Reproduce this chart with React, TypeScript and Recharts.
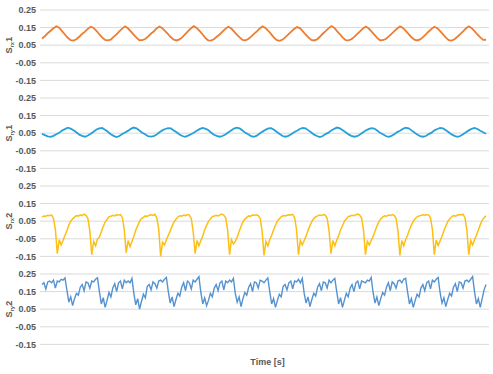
import React from "react";
import { LineChart, Line, XAxis, YAxis, CartesianGrid } from "recharts";

// shared y ticks for every panel
const yTicks = [-0.15, -0.05, 0.05, 0.15, 0.25];

// S_rx1 (orange)
const srx1 = [
  0.088, 0.101, 0.118, 0.132, 0.146,
  0.158, 0.149, 0.13, 0.111, 0.092, 0.079, 0.076, 0.084, 0.098, 0.114, 0.127, 0.143,
  0.155, 0.148, 0.132, 0.112, 0.094, 0.08, 0.078, 0.082, 0.097, 0.112, 0.129, 0.144,
  0.157, 0.146, 0.129, 0.11, 0.093, 0.078, 0.079, 0.085, 0.099, 0.115, 0.128, 0.145,
  0.156, 0.147, 0.13, 0.113, 0.095, 0.081, 0.077, 0.083, 0.096, 0.113, 0.13, 0.146,
  0.158, 0.148, 0.131, 0.112, 0.092, 0.078, 0.076, 0.084, 0.098, 0.111, 0.127, 0.143,
  0.155, 0.146, 0.128, 0.11, 0.094, 0.08, 0.078, 0.085, 0.099, 0.114, 0.129, 0.145,
  0.157, 0.148, 0.132, 0.113, 0.093, 0.079, 0.075, 0.082, 0.096, 0.112, 0.127, 0.142,
  0.153, 0.147, 0.13, 0.111, 0.094, 0.08, 0.077, 0.083, 0.098, 0.115, 0.13, 0.146,
  0.159, 0.149, 0.13, 0.112, 0.093, 0.079, 0.077, 0.084, 0.097, 0.113, 0.128, 0.144,
  0.156, 0.146, 0.129, 0.11, 0.092, 0.078, 0.079, 0.085, 0.099, 0.114, 0.13, 0.145,
  0.157, 0.148, 0.131, 0.113, 0.095, 0.081, 0.077, 0.083, 0.096, 0.112, 0.128, 0.143,
  0.155, 0.147, 0.13, 0.112, 0.093, 0.079, 0.076, 0.084, 0.098, 0.113, 0.129, 0.145,
  0.157, 0.147, 0.13, 0.111, 0.094, 0.08, 0.081,
];

// S_ry1 (light blue)
const sry1 = [
  0.046, 0.039, 0.032,
  0.029, 0.035, 0.044, 0.052, 0.065, 0.073, 0.081, 0.076, 0.067, 0.055, 0.042, 0.035,
  0.03, 0.037, 0.047, 0.058, 0.071, 0.077, 0.08, 0.069, 0.058, 0.044, 0.035,
  0.028, 0.034, 0.045, 0.054, 0.063, 0.075, 0.082, 0.078, 0.065, 0.053, 0.044, 0.033,
  0.031, 0.033, 0.042, 0.055, 0.066, 0.074, 0.079, 0.077, 0.066, 0.055, 0.043, 0.034,
  0.029, 0.036, 0.044, 0.053, 0.064, 0.073, 0.08, 0.076, 0.068, 0.054, 0.041, 0.035,
  0.03, 0.034, 0.043, 0.054, 0.065, 0.076, 0.081, 0.077, 0.065, 0.052, 0.044, 0.033,
  0.029, 0.036, 0.048, 0.059, 0.069, 0.077, 0.079, 0.07, 0.057, 0.045, 0.034,
  0.03, 0.035, 0.044, 0.055, 0.064, 0.074, 0.08, 0.078, 0.066, 0.054, 0.042, 0.034,
  0.028, 0.034, 0.045, 0.053, 0.066, 0.075, 0.082, 0.077, 0.067, 0.055, 0.043, 0.035,
  0.03, 0.033, 0.043, 0.054, 0.065, 0.073, 0.079, 0.076, 0.065, 0.053, 0.044, 0.034,
  0.029, 0.035, 0.044, 0.056, 0.064, 0.075, 0.081, 0.078, 0.066, 0.054, 0.042, 0.033,
  0.03, 0.034, 0.045, 0.053, 0.066, 0.074, 0.08, 0.077, 0.067, 0.055, 0.043, 0.035,
  0.029, 0.034, 0.044, 0.055, 0.066, 0.075, 0.08, 0.074, 0.064, 0.055, 0.047,
];

// S_rx2 (yellow)
const srx2 = [
  0.073, 0.08, 0.078, 0.084, 0.081, 0.086, 0.066, 0.002,
  -0.135, -0.055, -0.085, -0.06, -0.03, -0.005, 0.028, 0.05, 0.064, 0.073, 0.082, 0.079, 0.086, 0.082, 0.09, 0.083, 0.065, -0.005,
  -0.14, -0.065, -0.09, -0.05, -0.04, -0.01, 0.02, 0.045, 0.06, 0.075, 0.078, 0.084, 0.08, 0.087, 0.085, 0.088, 0.07, 0.0,
  -0.13, -0.06, -0.095, -0.065, -0.035, 0.0, 0.025, 0.05, 0.065, 0.072, 0.08, 0.077, 0.084, 0.086, 0.083, 0.089, 0.068, 0.005,
  -0.15, -0.07, -0.085, -0.055, -0.03, -0.005, 0.022, 0.046, 0.061, 0.074, 0.081, 0.079, 0.085, 0.081, 0.088, 0.085, 0.066, -0.01,
  -0.135, -0.06, -0.09, -0.06, -0.035, 0.002, 0.026, 0.049, 0.063, 0.076, 0.079, 0.083, 0.08, 0.086, 0.09, 0.084, 0.069, 0.0,
  -0.14, -0.055, -0.08, -0.065, -0.04, -0.008, 0.02, 0.047, 0.062, 0.072, 0.08, 0.078, 0.086, 0.083, 0.087, 0.082, 0.067, -0.005,
  -0.145, -0.065, -0.09, -0.055, -0.03, 0.0, 0.027, 0.05, 0.064, 0.075, 0.082, 0.08, 0.084, 0.087, 0.085, 0.089, 0.07, 0.003,
  -0.14, -0.06, -0.085, -0.06, -0.035, -0.002, 0.025, 0.048, 0.065, 0.074, 0.08, 0.085, 0.082, 0.088, 0.084, 0.066, -0.005,
  -0.135, -0.06, -0.09, -0.058, -0.032, 0.0, 0.024, 0.049, 0.062, 0.076, 0.079, 0.084, 0.081, 0.087, 0.09, 0.085, 0.068, 0.0,
  -0.14, -0.065, -0.085, -0.06, -0.038, -0.006, 0.022, 0.046, 0.063, 0.073, 0.081, 0.078, 0.085, 0.082, 0.088, 0.083, 0.067, -0.005,
  -0.145, -0.06, -0.09, -0.055, -0.03, 0.002, 0.028, 0.05, 0.064, 0.075, 0.08, 0.083, 0.086, 0.084, 0.087, 0.086, 0.069, 0.002,
  -0.14, -0.058, -0.088, -0.062, -0.035, -0.004, 0.023, 0.047, 0.062, 0.074, 0.082, 0.079, 0.084, 0.088, 0.085, 0.09, 0.07, 0.0,
  -0.14, -0.06, -0.085, -0.055, -0.03, 0.0, 0.03, 0.055, 0.07, 0.08,
];

// S_ry2 (blue)
const sry2 = [
  0.19, 0.2, 0.165, 0.205, 0.21, 0.2, 0.215, 0.17, 0.21, 0.205, 0.22, 0.215, 0.228, 0.16,
  0.09, 0.12, 0.07, 0.11, 0.14, 0.13, 0.175, 0.19, 0.155, 0.205, 0.2, 0.17, 0.21, 0.205, 0.22, 0.228, 0.15,
  0.08, 0.115, 0.06, 0.1, 0.145, 0.12, 0.17, 0.195, 0.15, 0.2, 0.21, 0.165, 0.215, 0.2, 0.21, 0.2, 0.225, 0.14,
  0.075, 0.11, 0.05, 0.095, 0.135, 0.115, 0.18, 0.19, 0.16, 0.205, 0.195, 0.17, 0.21, 0.215, 0.205, 0.22, 0.23, 0.15,
  0.085, 0.12, 0.065, 0.105, 0.14, 0.125, 0.175, 0.2, 0.155, 0.21, 0.2, 0.165, 0.215, 0.205, 0.22, 0.235, 0.145,
  0.08, 0.115, 0.07, 0.1, 0.14, 0.12, 0.17, 0.19, 0.155, 0.2, 0.21, 0.16, 0.21, 0.2, 0.215, 0.205, 0.225, 0.14,
  0.09, 0.12, 0.065, 0.11, 0.145, 0.13, 0.175, 0.195, 0.15, 0.205, 0.2, 0.17, 0.215, 0.21, 0.2, 0.215, 0.228, 0.15,
  0.08, 0.11, 0.06, 0.1, 0.135, 0.12, 0.18, 0.19, 0.16, 0.2, 0.21, 0.165, 0.21, 0.205, 0.22, 0.2, 0.225, 0.14,
  0.085, 0.12, 0.065, 0.105, 0.14, 0.125, 0.175, 0.195, 0.155, 0.205, 0.2, 0.17, 0.215, 0.2, 0.215, 0.225, 0.15,
  0.08, 0.115, 0.06, 0.1, 0.14, 0.12, 0.17, 0.19, 0.15, 0.2, 0.21, 0.165, 0.21, 0.205, 0.2, 0.215, 0.21, 0.23, 0.145,
  0.085, 0.12, 0.07, 0.11, 0.145, 0.13, 0.175, 0.2, 0.155, 0.205, 0.195, 0.17, 0.21, 0.215, 0.2, 0.22, 0.225, 0.15,
  0.08, 0.11, 0.06, 0.1, 0.135, 0.12, 0.17, 0.19, 0.155, 0.2, 0.21, 0.165, 0.215, 0.205, 0.22, 0.23, 0.145,
  0.085, 0.115, 0.065, 0.105, 0.14, 0.125, 0.175, 0.195, 0.15, 0.205, 0.2, 0.17, 0.21, 0.215, 0.205, 0.22, 0.235, 0.15,
  0.08, 0.11, 0.06, 0.11, 0.16, 0.19,
];

const panels = [
  { values: srx1, color: "#ED7D31", sub: "rx", num: "1", width: 1.8 },
  { values: sry1, color: "#25A1DA", sub: "ry", num: "1", width: 1.8 },
  { values: srx2, color: "#FDBF14", sub: "rx", num: "2", width: 1.5 },
  { values: sry2, color: "#5592D0", sub: "ry", num: "2", width: 1.4 },
];

const FONT = "'Liberation Sans', Arial, sans-serif";
const TEXT = "#595959";

function YTitle(props: any) {
  const vb = props.viewBox || {};
  const cx = 12.5;
  const cy = vb.y != null ? vb.y + vb.height / 2 : 43.2;
  return (
    <text
      x={cx}
      y={cy}
      transform={`rotate(-90, ${cx}, ${cy})`}
      textAnchor="middle"
      fontFamily={FONT}
      fontWeight="bold"
      fontSize={9}
      fill={TEXT}
    >
      <tspan>S</tspan>
      <tspan fontSize={6} dy={2}>{props.sub}</tspan>
      <tspan dy={-2}>{props.num}</tspan>
    </text>
  );
}

function XTitle(props: any) {
  const vb = props.viewBox || {};
  const cx = vb.x != null ? vb.x + vb.width / 2 + 3 : 267;
  const cy = vb.y != null ? vb.y + 21 : 365;
  return (
    <text x={cx} y={cy} textAnchor="middle" fontFamily={FONT} fontWeight="bold" fontSize={9} fill={TEXT}>
      Time [s]
    </text>
  );
}

function Panel({ p, top, last }: { p: any; top: number; last: boolean }) {
  const data = p.values.map((v: number, i: number) => ({ t: i, v }));
  return (
    <div style={{ position: "absolute", left: 0, top }}>
      <LineChart
        width={493}
        height={last ? 108 : 88}
        data={data}
        margin={{ top: 8, right: 4, bottom: 9.6, left: 0 }}
      >
        <CartesianGrid vertical={false} stroke="#D9D9D9" strokeWidth={1} />
        <XAxis
          dataKey="t"
          type="number"
          domain={[0, p.values.length - 1]}
          padding={{ left: 2, right: 3 }}
          hide={!last}
          height={20}
          tick={false}
          tickLine={false}
          axisLine={false}
          label={<XTitle />}
        />
        <YAxis
          domain={[-0.15, 0.25]}
          ticks={yTicks}
          interval={0}
          width={40}
          tickSize={0}
          tickMargin={4}
          axisLine={false}
          tickLine={false}
          tickFormatter={(v: number) => v.toFixed(2)}
          tick={{ fontSize: 9, fontWeight: "bold", fill: TEXT, fontFamily: FONT }}
          label={<YTitle sub={p.sub} num={p.num} />}
        />
        <Line
          type="linear"
          dataKey="v"
          stroke={p.color}
          strokeWidth={p.width}
          dot={false}
          isAnimationActive={false}
        />
      </LineChart>
    </div>
  );
}

export default function App() {
  return (
    <div style={{ position: "absolute", left: 0, top: 0, width: 493, height: 374, background: "#fff" }}>
      {panels.map((p, k) => (
        <Panel key={k} p={p} top={2 + 88 * k} last={k === panels.length - 1} />
      ))}
    </div>
  );
}
